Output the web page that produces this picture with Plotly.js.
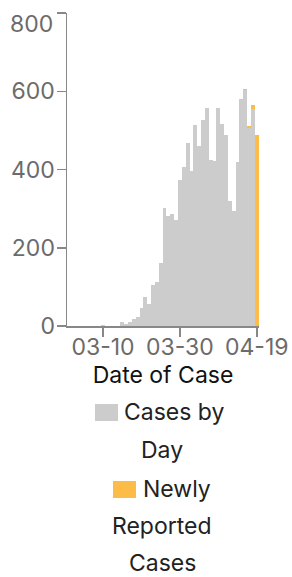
<!DOCTYPE html>
<html>
<head>
<meta charset="utf-8">
<script src="https://cdn.plot.ly/plotly-3.0.1.min.js"></script>
<style>
  html, body { margin: 0; padding: 0; background: #fff; }
  #chart { width: 292px; height: 577px; }
</style>
</head>
<body>
<div id="chart"></div>
<script>
// ---- data ----
const dates = [
  '2020-03-01','2020-03-02','2020-03-03','2020-03-04','2020-03-05','2020-03-06','2020-03-07','2020-03-08','2020-03-09','2020-03-10',
  '2020-03-11','2020-03-12','2020-03-13','2020-03-14','2020-03-15','2020-03-16','2020-03-17','2020-03-18','2020-03-19','2020-03-20',
  '2020-03-21','2020-03-22','2020-03-23','2020-03-24','2020-03-25','2020-03-26','2020-03-27','2020-03-28','2020-03-29','2020-03-30',
  '2020-03-31','2020-04-01','2020-04-02','2020-04-03','2020-04-04','2020-04-05','2020-04-06','2020-04-07','2020-04-08','2020-04-09',
  '2020-04-10','2020-04-11','2020-04-12','2020-04-13','2020-04-14','2020-04-15','2020-04-16','2020-04-17','2020-04-18','2020-04-19'
];
const casesByDay = [
  0, 0, 0, 0, 0, 1, 1, 1, 0, 3,
  1, 1, 1, 0, 10, 6, 10, 18, 23, 47,
  74, 56, 105, 113, 162, 301, 282, 286, 271, 373,
  406, 467, 396, 513, 460, 526, 557, 424, 421, 557,
  516, 488, 319, 294, 419, 580, 602, 506, 554, 0
];
const newlyReported = [
  0, 0, 0, 0, 0, 0, 0, 0, 0, 0,
  0, 0, 0, 0, 0, 0, 0, 0, 0, 0,
  0, 0, 0, 0, 0, 0, 0, 0, 0, 0,
  0, 0, 0, 0, 0, 0, 0, 0, 0, 0,
  0, 0, 0, 0, 0, 0, 3, 4, 10, 488
];
const seriesNames = ['Cases by Day', 'Newly Reported Cases'];
const xTickVals = ['2020-03-10', '2020-03-30', '2020-04-19'];
const yTickVals = [0, 200, 400, 600, 800];
const yTickText = ['0', '200', '400', '600', '800'];

// ---- layout geometry ----
const W = 292, H = 577;
const M = { l: 67, r: 33, t: 13, b: 251 };
const pw = W - M.l - M.r, ph = H - M.t - M.b;
const px = p => (p - M.l) / pw;
const py = p => (H - M.b - p) / ph;

const GRAY = '#cccccc', ORANGE = '#fdbc48';
const FONT = 'Inter, "Noto Sans", sans-serif';
const TICKFONT = { family: FONT, size: 23, color: '#6b6b6b' };

const traces = [
  { type: 'bar', name: seriesNames[0], x: dates, y: casesByDay,
    marker: { color: GRAY, line: { width: 0 } }, hoverinfo: 'skip' },
  { type: 'bar', name: seriesNames[1], x: dates, y: newlyReported,
    marker: { color: ORANGE, line: { width: 0 } }, hoverinfo: 'skip' }
];

const legendText = { family: FONT, size: 23, color: '#222222' };

// top y label is drawn flush (below its tick) as in the reference
const lastY = yTickText.length - 1;
const yTickTextShown = yTickText.map((t, i) => (i === lastY ? '' : t));

const layout = {
  width: W, height: H,
  margin: M,
  paper_bgcolor: '#ffffff', plot_bgcolor: '#ffffff',
  barmode: 'stack', bargap: 0,
  showlegend: false,
  font: { family: FONT },
  xaxis: {
    type: 'date',
    range: ['2020-02-29 15:00', '2020-04-19 14:00'],
    tickmode: 'array', tickvals: xTickVals, tickformat: '%m-%d',
    ticks: 'outside', ticklen: 9, tickwidth: 1.5, tickcolor: '#888888',
    showline: true, linecolor: '#888888', linewidth: 1.5,
    showgrid: false, zeroline: false,
    ticklabelstandoff: -9, ticklabeloverflow: 'allow',
    tickfont: TICKFONT,
    title: { text: 'Date of Case', font: { family: FONT, size: 23, color: '#111111' }, standoff: 5 },
    fixedrange: true
  },
  yaxis: {
    range: [0, 800],
    tickmode: 'array', tickvals: yTickVals, ticktext: yTickTextShown,
    ticks: 'outside', ticklen: 9, tickwidth: 1.5, tickcolor: '#888888',
    showline: true, linecolor: '#888888', linewidth: 1.5,
    showgrid: false, zeroline: false,
    ticklabelstandoff: -3, ticklabeloverflow: 'allow',
    tickfont: TICKFONT,
    fixedrange: true
  },
  shapes: [
    { type: 'rect', xref: 'paper', yref: 'paper', x0: px(95), x1: px(118), y0: py(421), y1: py(404),
      fillcolor: GRAY, line: { width: 0 } },
    { type: 'rect', xref: 'paper', yref: 'paper', x0: px(113), x1: px(136), y0: py(498), y1: py(481),
      fillcolor: ORANGE, line: { width: 0 } }
  ],
  annotations: [
    { xref: 'paper', yref: 'y', x: px(53), y: yTickVals[lastY], yshift: -11,
      xanchor: 'right', yanchor: 'middle', borderpad: 0, borderwidth: 0,
      text: yTickText[lastY], showarrow: false, font: TICKFONT },
    { xref: 'paper', yref: 'paper', x: px(122), y: py(412), xanchor: 'left', yanchor: 'middle',
      text: 'Cases by', showarrow: false, font: legendText },
    { xref: 'paper', yref: 'paper', x: px(162), y: py(450), xanchor: 'center', yanchor: 'middle',
      text: 'Day', showarrow: false, font: legendText },
    { xref: 'paper', yref: 'paper', x: px(141), y: py(489), xanchor: 'left', yanchor: 'middle',
      text: 'Newly', showarrow: false, font: legendText },
    { xref: 'paper', yref: 'paper', x: px(162), y: py(526), xanchor: 'center', yanchor: 'middle',
      text: 'Reported', showarrow: false, font: legendText },
    { xref: 'paper', yref: 'paper', x: px(162), y: py(563), xanchor: 'center', yanchor: 'middle',
      text: 'Cases', showarrow: false, font: legendText }
  ]
};

Plotly.newPlot('chart', traces, layout, { staticPlot: true, displayModeBar: false });
</script>
</body>
</html>
